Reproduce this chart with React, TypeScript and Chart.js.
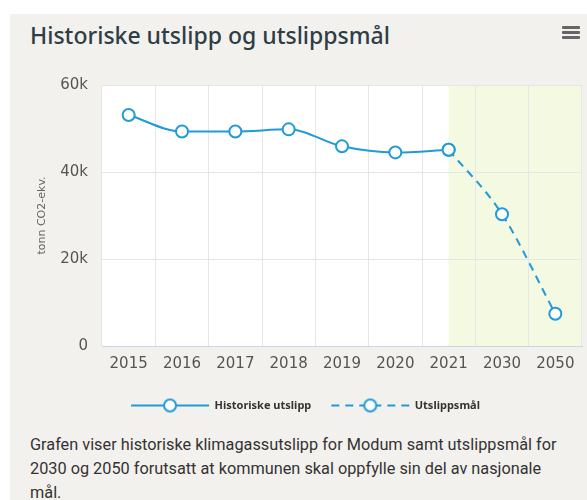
import React, { useEffect, useRef } from "react";
import { Chart, registerables } from "chart.js";

Chart.register(...registerables);

const categories = ["2015", "2016", "2017", "2018", "2019", "2020", "2021", "2030", "2050"];
const historiske = [53100, 49300, 49300, 49800, 45900, 44500, 45100, null, null];
const maal = [null, null, null, null, null, null, 45100, 30300, 7400];
const seriesNames = ["Historiske utslipp", "Utslippsmål"];
const yTicks = [0, 20000, 40000, 60000];
const bandStartIndex = 6;

const BLUE = "#1f9bd7";

function makeSymbol(dashed: boolean): HTMLCanvasElement {
  const c = document.createElement("canvas");
  c.width = 80;
  c.height = 18;
  const g = c.getContext("2d")!;
  g.strokeStyle = BLUE;
  g.lineWidth = 2;
  if (dashed) g.setLineDash([8, 6]);
  g.beginPath();
  g.moveTo(1, 9);
  g.lineTo(79, 9);
  g.stroke();
  g.setLineDash([]);
  g.beginPath();
  g.arc(40, 9, 6, 0, Math.PI * 2);
  g.fillStyle = "#ffffff";
  g.fill();
  g.stroke();
  return c;
}

const bgPlugin = {
  id: "plotBg",
  beforeDraw(chart: any) {
    const { ctx, chartArea } = chart;
    const x = chart.scales.x;
    ctx.save();
    ctx.fillStyle = "#ffffff";
    ctx.fillRect(chartArea.left, chartArea.top, chartArea.right - chartArea.left, chartArea.bottom - chartArea.top);
    const bx = x.getPixelForValue(bandStartIndex);
    ctx.fillStyle = "#f4f9e1";
    ctx.fillRect(bx, chartArea.top, chartArea.right - bx, chartArea.bottom - chartArea.top);
    ctx.restore();
  },
};

export default function App() {
  const ref = useRef<HTMLCanvasElement>(null);
  useEffect(() => {
    document.documentElement.style.overflow = "hidden";
    const symbols = [makeSymbol(false), makeSymbol(true)];
    const chart = new Chart(ref.current!, {
      type: "line",
      data: {
        labels: categories,
        datasets: [
          {
            label: seriesNames[0],
            data: historiske,
            borderColor: BLUE,
            backgroundColor: "#ffffff",
            borderWidth: 2,
            pointRadius: 6,
            pointBorderWidth: 2,
            pointBackgroundColor: "#ffffff",
            pointBorderColor: BLUE,
            cubicInterpolationMode: "monotone",
            spanGaps: false,
          },
          {
            label: seriesNames[1],
            data: maal,
            borderColor: BLUE,
            backgroundColor: "#ffffff",
            borderWidth: 2,
            borderDash: [8, 6],
            pointRadius: 6,
            pointBorderWidth: 2,
            pointBackgroundColor: "#ffffff",
            pointBorderColor: BLUE,
            cubicInterpolationMode: "monotone",
          },
        ],
      },
      options: {
        animation: false,
        responsive: false,
        maintainAspectRatio: false,
        layout: { padding: { left: 0, right: 0, top: 21, bottom: 11 } },
        plugins: {
          tooltip: { enabled: false },
          legend: {
            position: "bottom",
            align: "center",
            labels: {
              usePointStyle: true,
              pointStyleWidth: 78,
              padding: 20,
              color: "#333333",
              font: { family: "'Noto Sans', sans-serif", size: 11, weight: "bold" },
              generateLabels: (ch: any) =>
                ch.data.datasets.map((ds: any, i: number) => ({
                  text: ds.label,
                  pointStyle: symbols[i],
                  fillStyle: "#fff",
                  strokeStyle: BLUE,
                  lineWidth: 0,
                  hidden: false,
                  datasetIndex: i,
                  fontColor: "#333333",
                })),
            },
          },
        },
        scales: {
          x: {
            offset: true,
            grid: { offset: true, color: "#e6e6e6", drawTicks: false },
            border: { color: "#ccd6eb", width: 1 },
            afterFit: (s: any) => {
              s.height -= 2;
            },
            ticks: {
              color: "#555555",
              padding: 9,
              font: { family: "'DejaVu Sans', sans-serif", size: 15 },
              maxRotation: 0,
            },
          },
          y: {
            min: 0,
            max: 60000,
            afterBuildTicks: (s: any) => {
              s.ticks = yTicks.map((v) => ({ value: v }));
            },
            afterFit: (s: any) => {
              s.width = 92;
            },
            grid: {
              color: (c: any) => (c.tick && c.tick.value === 0 ? "rgba(0,0,0,0)" : "#e6e6e6"),
              drawTicks: false,
            },
            border: { display: false },
            ticks: {
              color: "#555555",
              padding: 14,
              font: { family: "'DejaVu Sans', sans-serif", size: 15 },
              callback: (v: any) => (v === 0 ? "0" : v / 1000 + "k"),
            },
            title: {
              display: true,
              text: "tonn CO2-ekv.",
              color: "#666666",
              font: { family: "'DejaVu Sans', sans-serif", size: 11 },
              padding: { top: 26, bottom: 0 },
            },
          },
          yRight: {
            type: "linear",
            position: "right",
            display: true,
            min: 0,
            max: 1,
            grid: { display: false, drawTicks: false },
            border: { display: false },
            ticks: { display: false },
            afterFit: (s: any) => {
              s.width = 19;
            },
          },
        },
      },
      plugins: [bgPlugin],
    });
    return () => chart.destroy();
  }, []);

  return (
    <div
      style={{
        position: "absolute",
        left: 10,
        top: 14,
        width: 591,
        height: 500,
        background: "#f3f1ed",
      }}
    >
      <div
        style={{
          position: "absolute",
          left: 20,
          top: 5,
          fontFamily: "'Noto Sans', sans-serif",
          fontWeight: 500,
          fontSize: 23,
          color: "#2e3d46",
          whiteSpace: "nowrap",
        }}
      >
        Historiske utslipp og utslippsmål
      </div>
      <div style={{ position: "absolute", left: 552, top: 12 }}>
        {[0, 1, 2].map((i) => (
          <div key={i} style={{ width: 18, height: 3, background: "#666", marginBottom: 2, borderRadius: 1 }} />
        ))}
      </div>
      <canvas ref={ref} width={591} height={370} style={{ position: "absolute", left: 0, top: 48, width: 591, height: 370 }} />
      <div
        style={{
          position: "absolute",
          left: 20,
          top: 419,
          width: 535,
          fontFamily: "Roboto, sans-serif",
          fontSize: 16.3,
          lineHeight: "24px",
          color: "#333333",
        }}
      >
        Grafen viser historiske klimagassutslipp for Modum samt utslippsmål for 2030 og 2050 forutsatt at kommunen skal oppfylle sin del av nasjonale mål.
      </div>
    </div>
  );
}
